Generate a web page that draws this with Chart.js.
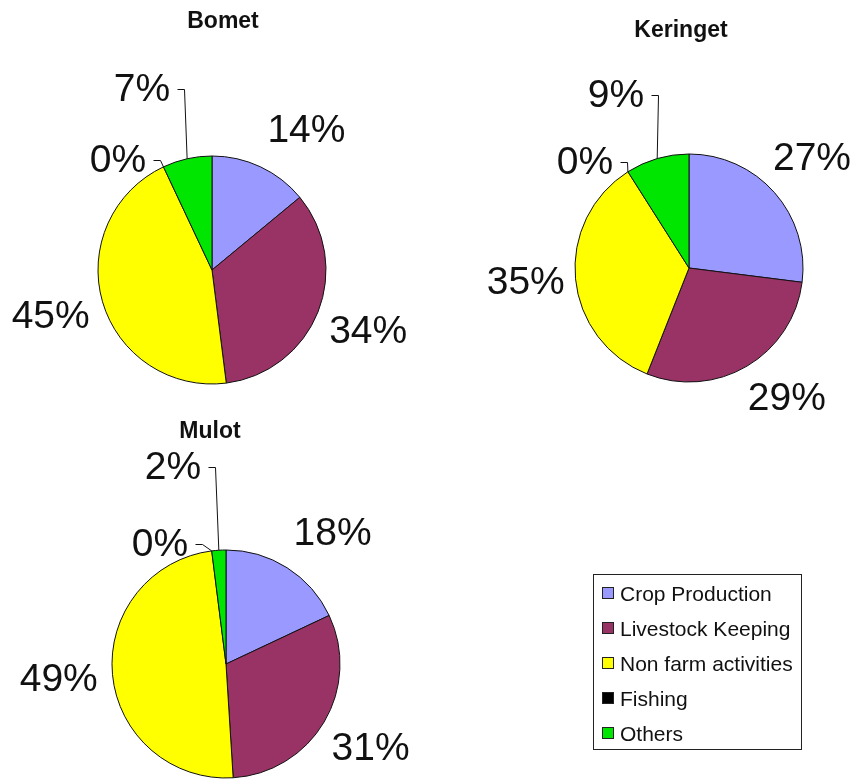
<!DOCTYPE html>
<html>
<head>
<meta charset="utf-8">
<script src="https://cdn.jsdelivr.net/npm/chart.js@4"></script>
<style>
  body { margin: 0; background: #fff; font-family: "Liberation Sans", Arial, sans-serif; }
  #wrap { position: relative; width: 855px; height: 779px; overflow: hidden; }
  #wrap canvas { position: absolute; left: 0; top: 0; }
  #legend { position: absolute; left: 593px; top: 574px; width: 209px; height: 176px;
            box-sizing: border-box; border: 1px solid #222; padding-top: 1px; background: #fff; }
  .item { position: relative; height: 35px; line-height: 35px; font-size: 21px; color: #111; padding-left: 26px; white-space: nowrap; }
  .item span { position: absolute; left: 8px; top: 11px; width: 10px; height: 10px; border: 1px solid #222; }
</style>
</head>
<body>
<div id="wrap">
  <canvas id="bomet" width="855" height="779"></canvas>
  <canvas id="keringet" width="855" height="779"></canvas>
  <canvas id="mulot" width="855" height="779"></canvas>
  <div id="legend"></div>
</div>
<script>
// Sources of household income, share per location (%)
const categories = ['Crop Production', 'Livestock Keeping', 'Non farm activities', 'Fishing', 'Others'];
const bometShares = [14, 34, 45, 0, 7];
const keringetShares = [27, 29, 35, 0, 9];
const mulotShares = [18, 31, 49, 0, 2];

const sliceColors = ['#9999FF', '#993366', '#FFFF00', '#000000', '#00E600'];

// draws the percentage labels, leader lines for the crowded slices, and the title
const sliceLabels = {
    id: 'sliceLabels',
    afterDatasetsDraw(chart, args, opts) {
        const ctx = chart.ctx;
        const meta = chart.getDatasetMeta(0);
        const values = chart.data.datasets[0].data;
        ctx.save();
        ctx.fillStyle = '#111';
        ctx.strokeStyle = '#111';
        ctx.lineWidth = 1;
        ctx.textAlign = 'center';
        ctx.textBaseline = 'middle';
        ctx.font = '39px "Liberation Sans", Arial, sans-serif';
        meta.data.forEach((arc, i) => {
            const p = arc.getProps(['x', 'y', 'startAngle', 'endAngle', 'outerRadius'], true);
            const mid = (p.startAngle + p.endAngle) / 2;
            const text = values[i] + '%';
            const callout = opts.callouts[i];
            if (callout) {
                const lx = p.x + callout[0], ly = p.y + callout[1];
                ctx.fillText(text, lx, ly);
                const w = ctx.measureText(text).width;
                const sx = Math.round(lx + w / 2 + 7) + 0.5;
                const sy = Math.round(ly - 1) + 0.5;
                ctx.beginPath();
                ctx.moveTo(sx, sy);
                ctx.lineTo(sx + 7, sy);
                ctx.lineTo(p.x + Math.cos(mid) * p.outerRadius, p.y + Math.sin(mid) * p.outerRadius);
                ctx.stroke();
            } else {
                const a = mid + (opts.nudge[i] || 0) * Math.PI / 180;
                ctx.fillText(text, p.x + Math.cos(a) * opts.distance, p.y + Math.sin(a) * opts.distance);
            }
        });
        ctx.font = 'bold 23px "Liberation Sans", Arial, sans-serif';
        ctx.fillText(opts.title, opts.titleAt[0], opts.titleAt[1]);
        ctx.restore();
    }
};

function makePie(id, name, shares, cx, cy, r, labelOpts) {
    const ctx = document.getElementById(id).getContext('2d');
    const W = 855, H = 779;
    return new Chart(ctx, {
        type: 'pie',
        data: {
            labels: categories,
            datasets: [{
                data: shares,
                backgroundColor: sliceColors,
                borderColor: '#111',
                borderWidth: 1
            }]
        },
        options: {
            responsive: false,
            animation: false,
            events: [],
            layout: {
                padding: {
                    left: cx - r - 0.5,
                    top: cy - r - 0.5,
                    right: W - (cx + r + 0.5),
                    bottom: H - (cy + r + 0.5)
                }
            },
            plugins: {
                legend: { display: false },
                tooltip: { enabled: false },
                sliceLabels: Object.assign({ title: name }, labelOpts)
            }
        },
        plugins: [sliceLabels]
    });
}

// Chart 1 (Bomet)
makePie('bomet', 'Bomet', bometShares, 212, 270, 114, {
    distance: 168,
    nudge: { 0: 9 },
    callouts: { 3: [-94, -109], 4: [-70, -180] },
    titleAt: [223, 22]
});

// Chart 2 (Keringet)
makePie('keringet', 'Keringet', keringetShares, 689, 268, 114, {
    distance: 164,
    nudge: { 1: -6 },
    callouts: { 3: [-104, -105], 4: [-73, -172] },
    titleAt: [681, 31]
});

// Chart 3 (Mulot)
makePie('mulot', 'Mulot', mulotShares, 226, 664, 114, {
    distance: 168,
    nudge: { 0: 7 },
    callouts: { 3: [-66, -119], 4: [-53, -196] },
    titleAt: [210, 432]
});

// legend box built from the same categories and colours
const legend = document.getElementById('legend');
categories.forEach((c, i) => {
    const row = document.createElement('div');
    row.className = 'item';
    const sw = document.createElement('span');
    sw.style.background = sliceColors[i];
    row.appendChild(sw);
    row.appendChild(document.createTextNode(c));
    legend.appendChild(row);
});
</script>
</body>
</html>
